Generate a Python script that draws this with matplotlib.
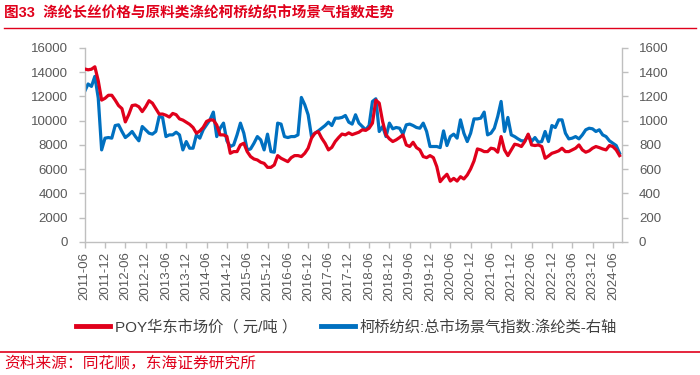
import matplotlib
matplotlib.use("Agg")
import matplotlib.pyplot as plt
from matplotlib.lines import Line2D

plt.rcParams['font.family'] = ['Liberation Sans', 'Noto Sans CJK SC', 'DejaVu Sans']

# Monthly data, 2011-06 .. 2024-08
poy_price = [
    14270, 14200, 14250, 14450, 13300, 11700, 11850, 12100, 12100, 11700,
    11250, 11000, 9900, 10500, 11250, 11300, 11150, 10750, 11150, 11650,
    11450, 11000, 10550, 10550, 10450, 10300, 10600, 10500, 10150, 10050,
    9880, 9700, 9440, 8970, 9150, 9450, 9940, 10070, 10050, 9650,
    8830, 8830, 8700, 7310, 7450, 7450, 8000, 8140, 7450, 7040,
    6840, 6760, 6570, 6480, 6150, 6150, 6350, 7120, 6900, 6760,
    6620, 6950, 7120, 7120, 7040, 7310, 7730, 8560, 8970, 9100,
    8560, 8140, 7590, 7800, 8280, 8610, 8900, 8830, 9000, 8850,
    8950, 9050, 9250, 9200, 9380, 9800, 11700, 11450, 9940, 8830,
    8500, 8280, 8420, 8610, 8830, 8000, 7870, 8220, 7780, 7590,
    7040, 6950, 7120, 6950, 6210, 4970, 5300, 5580, 5020, 5240,
    5020, 5380, 5190, 5520, 6020, 6680, 7670, 7590, 7450, 7450,
    7730, 7670, 7400, 8690, 7590, 7120, 7590, 8060, 8000, 7870,
    8280, 8890, 8000, 7950, 8000, 7870, 6900, 7090, 7310, 7400,
    7510, 7730, 7450, 7450, 7590, 7730, 8000, 7590, 7400, 7510,
    7730, 7870, 7780, 7670, 7590, 7950, 7870, 7590, 7120,
]

keqiao_index = [
    1242, 1303, 1283, 1366, 1187, 759, 856, 861, 856, 960,
    966, 911, 861, 883, 911, 869, 834, 952, 925, 897,
    889, 911, 1035, 1027, 869, 883, 883, 905, 883, 759,
    828, 773, 773, 883, 856, 925, 966, 1007, 1071, 869,
    938, 980, 834, 787, 800, 883, 980, 897, 759, 767,
    814, 869, 842, 759, 889, 745, 740, 980, 972, 869,
    861, 869, 869, 883, 1192, 1132, 1049, 869, 897, 916,
    938, 960, 988, 960, 1021, 1021, 1027, 1043, 988, 972,
    1049, 980, 952, 925, 960, 1159, 1181, 911, 952, 869,
    980, 933, 944, 938, 889, 966, 972, 960, 944, 938,
    980, 911, 787, 787, 787, 778, 916, 795, 869, 889,
    856, 1007, 897, 828, 897, 1015, 1015, 1021, 1071, 883,
    897, 938, 1035, 1159, 911, 1027, 883, 869, 850, 834,
    834, 883, 828, 861, 822, 828, 911, 828, 960, 944,
    1007, 1007, 897, 850, 856, 869, 850, 883, 925, 938,
    933, 911, 925, 883, 869, 834, 814, 795, 731,
]

tick_labels = [f"{y}-{m}" for y in range(2011, 2025) for m in ("06", "12")][:27]

legend_labels = ["POY华东市场价（ 元/吨 ）", "柯桥纺织:总市场景气指数:涤纶类-右轴"]
title_text = "图33  涤纶长丝价格与原料类涤纶柯桥纺织市场景气指数走势"
source_text = "资料来源：同花顺，东海证券研究所"

RED = "#E0001B"
BLUE = "#0070C0"
AXC = "#BFBFBF"
TXT = "#595959"

fig = plt.figure(figsize=(7.0, 3.75), dpi=100)
ax = fig.add_axes([0.121, 0.355, 0.768, 0.517])
ax2 = ax.twinx()

x = list(range(len(poy_price)))
ax.plot(x, poy_price, color=RED, lw=2.3, solid_joinstyle='round', zorder=3)
ax2.plot(list(range(len(keqiao_index))), keqiao_index, color=BLUE, lw=2.3,
         solid_joinstyle='round', zorder=3)
ax.set_zorder(ax2.get_zorder() + 1)
ax.patch.set_visible(False)

ax.set_xlim(0, 158.8)
ax.set_ylim(0, 16000)
ax2.set_ylim(0, 1600)
ax.set_yticks(range(0, 16001, 2000))
ax2.set_yticks(range(0, 1601, 200))
ticks = list(range(0, 6 * len(tick_labels), 6))
ax.set_xticks(ticks)
ax.set_xticklabels(tick_labels, rotation=90)

for a in (ax, ax2):
    for s in a.spines.values():
        s.set_color(AXC)
        s.set_linewidth(1.0)
    a.spines['top'].set_visible(False)
    a.tick_params(colors=AXC, labelcolor=TXT, labelsize=9.5, length=4, width=1.0)
ax.spines['right'].set_visible(False)
ax2.spines['left'].set_visible(False)
ax2.spines['bottom'].set_visible(False)
ax.tick_params(axis='y', pad=8)
ax2.tick_params(axis='y', pad=8)
ax.tick_params(axis='x', pad=3)

# title
fig.text(0.006, 0.965, title_text, color=RED, fontsize=10.5, fontweight='bold',
         va='center', ha='left')
fig.add_artist(Line2D([0.006, 0.994], [0.926, 0.926], color=RED, lw=1.0))

# legend
handles = [Line2D([], [], color=RED, lw=3.5), Line2D([], [], color=BLUE, lw=3.5)]
fig.legend(handles, legend_labels, loc='center', bbox_to_anchor=(0.495, 0.128),
           ncol=2, frameon=False, fontsize=11, handlelength=2.2,
           handletextpad=0.3, columnspacing=1.6, labelcolor='#404040')

# source
fig.add_artist(Line2D([0.0, 1.0], [0.061, 0.061], color=RED, lw=1.2))
fig.text(0.006, 0.031, source_text, color=RED, fontsize=11.3, va='center', ha='left')

fig.savefig("out.png", dpi=100)
